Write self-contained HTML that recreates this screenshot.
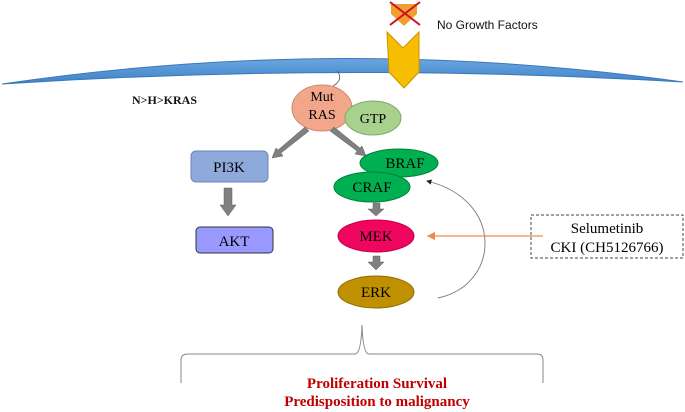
<!DOCTYPE html>
<html><head><meta charset="utf-8"><style>
html,body{margin:0;padding:0;background:#fff;}
svg{display:block;}
text{font-family:"Liberation Serif",serif;}
</style></head><body>
<svg width="685" height="412" viewBox="0 0 685 412" xmlns="http://www.w3.org/2000/svg">
<defs>
<linearGradient id="mem" x1="0" y1="0" x2="0" y2="1"><stop offset="0" stop-color="#6aa6e0"/><stop offset="1" stop-color="#3f82c8"/></linearGradient>
<marker id="ah" markerWidth="6" markerHeight="6" refX="5" refY="3" orient="auto"><path d="M0,0 L6,3 L0,6 z" fill="#222"/></marker>
<marker id="oh" markerWidth="7" markerHeight="7" refX="6" refY="3.5" orient="auto"><path d="M0,0 L7,3.5 L0,7 z" fill="#f08a4b"/></marker>
</defs>
<path d="M2,84 Q342,34 683,82 Q342,62 2,84 Z" fill="url(#mem)" stroke="#3b78b8" stroke-width="1"/>
<path d="M387,32 L403,48 L419,32 L419,72 L404,88 L389,72 Z" fill="#f7bd00" stroke="#c99400" stroke-width="1"/>
<path d="M391,4 L417,4 L417,14 L404,26 L391,14 Z" fill="#f0a030"/>
<line x1="390" y1="2" x2="420" y2="25" stroke="#d01020" stroke-width="2"/>
<line x1="420" y1="2" x2="390" y2="25" stroke="#d01020" stroke-width="2"/>
<text x="437" y="29" font-size="12" style="font-family:'Liberation Sans',sans-serif" fill="#111">No Growth Factors</text>
<path d="M337,71 Q343,78 336,84 Q332,87 333,86" fill="none" stroke="#555" stroke-width="0.8"/>
<text x="132" y="104" font-size="12" font-weight="bold" fill="#111">N&gt;H&gt;KRAS</text>
<ellipse cx="322" cy="108" rx="30" ry="23" fill="#f3a78a" stroke="#c98870"/>
<text x="322" y="101" font-size="14" text-anchor="middle">Mut</text>
<text x="322" y="119" font-size="14" text-anchor="middle">RAS</text>
<ellipse cx="373" cy="118" rx="28" ry="17" fill="#a9d18e" stroke="#7fa870"/>
<text x="373" y="123" font-size="14" text-anchor="middle">GTP</text>
<g fill="#808080" stroke="#606060" stroke-width="0.5">
<polygon points="305,127 309,131 281,153 283,156 272,158 276,148 278,150"/>
<polygon points="334,127 330,131 357,151 355,154 366,156 362,146 360,148"/>
<polygon points="224,188 232,188 232,205 236,205 228,216 220,205 224,205"/>
<polygon points="373,203 380,203 380,209 384,209 376,216 368,209 373,209"/>
<polygon points="373,256 380,256 380,262 384,262 376,270 368,262 373,262"/>
</g>
<rect x="191" y="151" width="77" height="31" rx="5" fill="#8eaadb" stroke="#6a86b8"/>
<text x="229" y="172" font-size="15" text-anchor="middle">PI3K</text>
<rect x="196" y="227" width="77" height="26" rx="4" fill="#9999ff" stroke="#333"/>
<text x="234" y="246" font-size="15" text-anchor="middle">AKT</text>
<ellipse cx="399" cy="163" rx="39" ry="14" fill="#00b050" stroke="#00803a"/>
<text x="405" y="168" font-size="15" text-anchor="middle">BRAF</text>
<ellipse cx="372" cy="187" rx="38" ry="15" fill="#00b050" stroke="#00803a"/>
<text x="372" y="192" font-size="15" text-anchor="middle">CRAF</text>
<ellipse cx="376" cy="236" rx="38" ry="16" fill="#f0065e" stroke="#c00048"/>
<text x="376" y="241" font-size="15" text-anchor="middle">MEK</text>
<ellipse cx="376" cy="292" rx="38" ry="16" fill="#bf9000" stroke="#8f6c00"/>
<text x="376" y="297" font-size="15" text-anchor="middle">ERK</text>
<path d="M438,298 C500,285 505,200 427,181" fill="none" stroke="#777" stroke-width="0.9" marker-end="url(#ah)"/>
<rect x="531" y="215" width="152" height="43" fill="#fff" stroke="#444" stroke-dasharray="3,2"/>
<text x="607" y="233" font-size="15" text-anchor="middle">Selumetinib</text>
<text x="607" y="252" font-size="15" text-anchor="middle">CKI (CH5126766)</text>
<line x1="543" y1="236" x2="428" y2="236" stroke="#f08a4b" stroke-width="1.2" marker-end="url(#oh)"/>
<path d="M181,383 L181,360 Q181,354 188,354 L355,354 Q361,354 362,325 Q363,354 369,354 L537,354 Q543,354 543,360 L543,383" fill="none" stroke="#888" stroke-width="1"/>
<text x="377" y="388" font-size="15" font-weight="bold" fill="#c00000" text-anchor="middle">Proliferation Survival</text>
<text x="377" y="406" font-size="15" font-weight="bold" fill="#c00000" text-anchor="middle">Predisposition to malignancy</text>
</svg>
</body></html>
